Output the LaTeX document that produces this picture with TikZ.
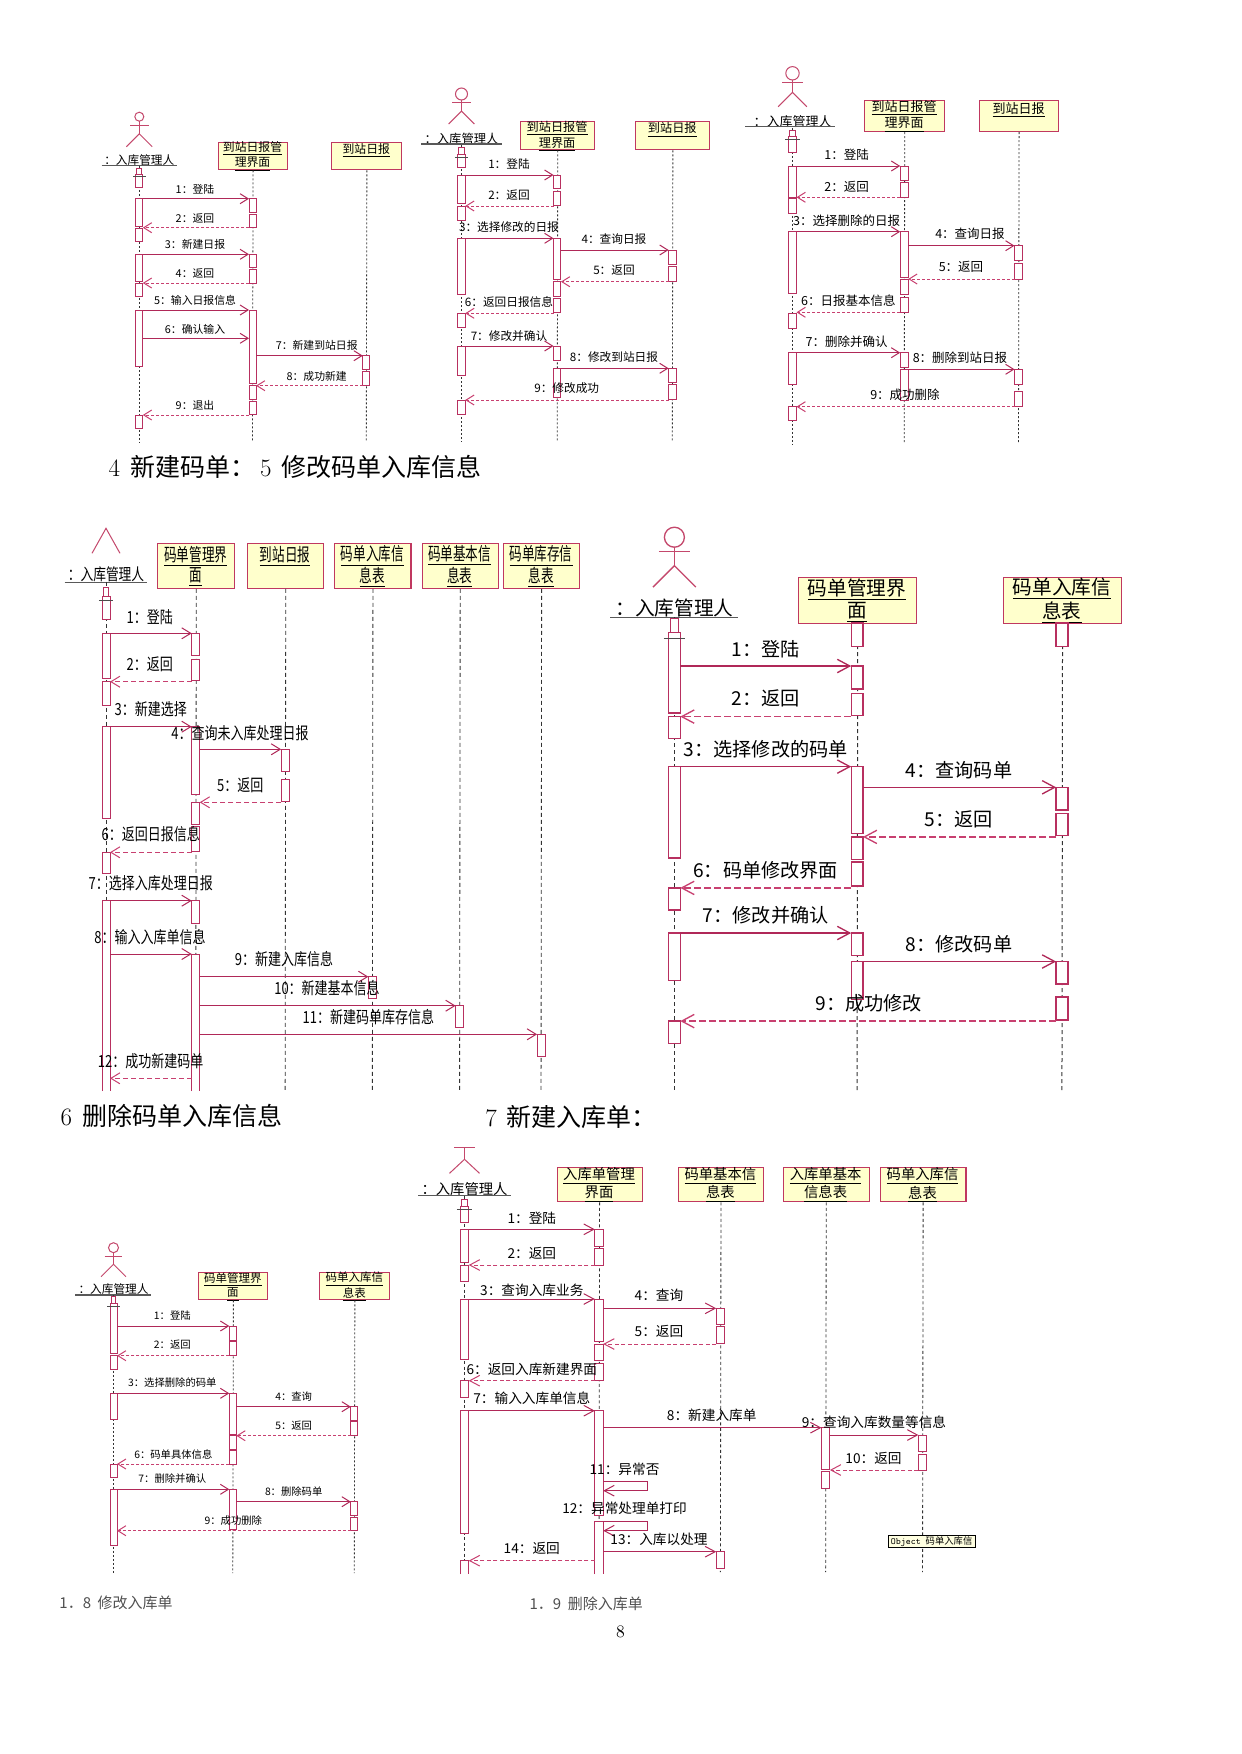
\documentclass[tikz,border=0pt]{standalone}
\usepackage{fontspec}
\usetikzlibrary{arrows.meta}
\newfontfamily\cjk{Noto Sans CJK SC}
\newfontfamily\cjkc[FakeStretch=0.78]{Noto Sans CJK SC}
\newfontfamily\cjkcb[FakeStretch=0.7]{Noto Sans CJK SC}
\definecolor{msgred}{RGB}{176,40,88}
\definecolor{retred}{RGB}{200,64,112}
\definecolor{actred}{RGB}{184,48,96}
\definecolor{boxred}{RGB}{192,56,96}
\definecolor{boxyel}{RGB}{255,255,204}
\definecolor{actorpink}{RGB}{196,72,108}
\definecolor{tipyel}{RGB}{255,255,225}
\definecolor{capgray}{RGB}{80,80,80}
\tikzset{
 objbox/.style={draw=boxred, fill=boxyel, line width=0.7pt, inner sep=0pt, anchor=north west},
 act/.style={draw=actred, fill=white, line width=0.6pt},
 actorst/.style={draw=actorpink, line width=0.6pt},
 ulst/.style={draw=black!65, line width=0.7pt},
 tick/.style={draw=black!70, line width=0.5pt},
 life/.style={draw=black!80, line width=0.5pt, dash pattern=on 1.2pt off 1.2pt},
 call/.style={draw=msgred, line width=0.6pt, -{Straight Barb[length=4.8pt,width=6pt]}},
 ret/.style={draw=retred, line width=0.6pt, dash pattern=on 1.8pt off 1.2pt, -{Straight Barb[length=4.8pt,width=6pt]}},
 lbl/.style={inner sep=0pt},
 boxtxt/.style={inner sep=0pt, align=center},
 actlbl/.style={inner sep=0pt},
}
\newcommand\sqact[3]{\draw[act] ({#1-\hw},{#2}) rectangle ({#1+\hw},{#3});}
\newcommand\sqacts[2]{\foreach \ya/\yb in {#2}{\sqact{#1}{\ya}{\yb}}}
\newcommand\sqacto[3]{\path[act] ({#1-\hw},{#3}) -- ({#1-\hw},{#2}) -- ({#1+\hw},{#2}) -- ({#1+\hw},{#3});}
\newcommand\sqstart[4]{%
 \draw[act] ({#1-0.7*\hw},{#2-#4}) rectangle ({#1+0.7*\hw},{#2});
 \draw[act] ({#1-\hw},{#2}) rectangle ({#1+\hw},{#3});
 \draw[tick] ({#1-1.8*\hw},{#2+0.45*#4}) -- ({#1+1.8*\hw},{#2+0.45*#4});}
\newcommand\sqmsg[8]{%
 \coordinate (#1s) at (#3,#5);
 \coordinate (#1e) at (#4,#5);
 \draw[#2] (#1s) -- (#1e);
 \node[lbl] (#1l) at (#6,#7) {#8};}
\newcommand\sqself[8]{%
 \coordinate (#1s) at (#2,#4); \coordinate (#1a) at (#3,#4);
 \coordinate (#1b) at (#3,#5); \coordinate (#1e) at (#2,#5);
 \draw[call] (#1s) -- (#1a) -- (#1b) -- (#1e);
 \node[lbl] (#1l) at (#6,#7) {#8};}
\newcommand\sqactor[4]{%
 \draw[actorst] (#1,#2) circle[radius=#4];
 \draw[actorst] (#1,{#2+#4}) -- (#1,{#2+0.57*#3});
 \draw[actorst] ({#1-0.31*#3},{#2+0.29*#3}) -- ({#1+0.31*#3},{#2+0.29*#3});
 \draw[actorst] ({#1-0.43*#3},{#2+#3}) -- (#1,{#2+0.57*#3}) -- ({#1+0.43*#3},{#2+#3});}
\newcommand\objbox[7]{%
 \node[objbox, minimum width={(#4-#2)*0.6pt}, minimum height={(#5-#3)*0.6pt}] (#1) at (#2,#3) {};
 \node[boxtxt] (#1t) at ({(#2+#4)/2},#6) {#7};}
\newcommand\ul[1]{\underline{#1}}
\begin{document}
\begin{tikzpicture}[x=0.6pt,y=-0.6pt]
\fill[white] (0,0) rectangle (1241,1754);
\useasboundingbox (0,0) rectangle (1241,1754);

% ================= A =================
\begin{scope}[lbl/.append style={font=\cjk\fontsize{6.5}{7}\selectfont},
 boxtxt/.append style={font=\cjk\fontsize{7.1}{7.6}\selectfont},
 actlbl/.append style={font=\cjk\fontsize{7}{8}\selectfont}]
\def\hw{3.5}
\sqactor{139.3}{116.7}{30}{4.5}
\node[actlbl] (Aal) at (139.3,160) {：入库管理人};
\coordinate (Aul1) at (101.7,165.3); \coordinate (Aul2) at (177.3,165.3);
\draw[ulst] (Aul1) -- (Aul2);
\objbox{Ab1}{217.7}{142.3}{287.3}{169.3}{156.3}{\ul{到站日报管}\\\ul{理界面}}
\objbox{Ab2}{331.3}{142.3}{401.3}{169.3}{150.7}{\ul{到站日报}}
\coordinate (Aae) at (139.3,442); \coordinate (Ab1e) at (252.5,442); \coordinate (Ab2e) at (366.3,442);
\draw[life] (Aal.south) -- (Aae);
\draw[life] (Ab1.south) -- (Ab1e);
\draw[life] (Ab2.south) -- (Ab2e);
\sqstart{139.3}{174}{187.3}{6}
\sqacts{139.3}{198.7/226, 228.3/241, 254.3/281.7, 283.3/296.7, 310/366, 415/428.3}
\sqacts{252.5}{198.7/212.3, 214.3/227.7, 254.3/267.7, 269.3/283.3, 310/383.3, 385.7/399, 401/414.3}
\sqacts{366.3}{355.7/369.3, 371.7/385.7}
\sqmsg{A1}{call}{142.8}{249}{198.7}{195}{189.3}{1：登陆}
\sqmsg{A2}{ret}{249}{142.8}{227.7}{195}{218.3}{2：返回}
\sqmsg{A3}{call}{142.8}{249}{254.3}{195}{244}{3：新建日报}
\sqmsg{A4}{ret}{249}{142.8}{283}{195}{273.3}{4：返回}
\sqmsg{A5}{call}{142.8}{249}{310}{195}{300}{5：输入日报信息}
\sqmsg{A6}{call}{142.8}{249}{338.3}{195}{329.3}{6：确认输入}
\sqmsg{A7}{call}{256}{362.8}{355.7}{316.7}{345}{7：新建到站日报}
\sqmsg{A8}{ret}{362.8}{256}{385.7}{316.7}{376}{8：成功新建}
\sqmsg{A9}{ret}{249}{142.8}{415}{195}{405}{9：退出}
\end{scope}

% ================= B =================
\begin{scope}[lbl/.append style={font=\cjk\fontsize{7}{7.5}\selectfont},
 boxtxt/.append style={font=\cjk\fontsize{7.3}{7.4}\selectfont},
 actlbl/.append style={font=\cjk\fontsize{7.4}{8}\selectfont}]
\def\hw{3.7}
\sqactor{461.5}{94}{30}{6}
\node[actlbl] (Bal) at (461.5,139) {：入库管理人};
\coordinate (Bul1) at (421,144); \coordinate (Bul2) at (502.3,144);
\draw[ulst] (Bul1) -- (Bul2);
\objbox{Bb1}{520}{120.7}{594.3}{149.3}{136.2}{\ul{到站日报管}\\\ul{理界面}}
\objbox{Bb2}{635.3}{120.7}{709.3}{149.3}{130}{\ul{到站日报}}
\coordinate (Bae) at (461.5,442); \coordinate (Bb1e) at (557.2,442); \coordinate (Bb2e) at (672.3,442);
\draw[life] (Bal.south) -- (Bae);
\draw[life] (Bb1.south) -- (Bb1e);
\draw[life] (Bb2.south) -- (Bb2e);
\sqstart{461.5}{154}{167.3}{7}
\sqacts{461.5}{175/203.3, 206/220, 238.3/294, 313.3/327.3, 346/375, 400/414}
\sqacts{557.2}{175/188.3, 191.7/205, 238.3/279.3, 281.7/296.7, 298.3/312.3, 346/360, 368.3/397.7}
\sqacts{672.3}{250/264, 266.7/281, 368.3/382.3, 384.3/399.3}
\sqmsg{B1}{call}{465.2}{553.5}{175}{509}{164}{1：登陆}
\sqmsg{B2}{ret}{553.5}{465.2}{206}{509}{195}{2：返回}
\sqmsg{B3}{call}{465.2}{553.5}{238.3}{509}{226.7}{3：选择修改的日报}
\sqmsg{B4}{call}{560.9}{668.6}{250}{614}{239.3}{4：查询日报}
\sqmsg{B5}{ret}{668.6}{560.9}{281.7}{614}{270}{5：返回}
\sqmsg{B6}{ret}{553.5}{465.2}{313.3}{509}{301.7}{6：返回日报信息}
\sqmsg{B7}{call}{465.2}{553.5}{346}{509}{336}{7：修改并确认}
\sqmsg{B8}{call}{560.9}{668.6}{368.3}{614}{356.7}{8：修改到站日报}
\sqmsg{B9}{ret}{668.6}{465.2}{400}{566.7}{388.3}{9：修改成功}
\end{scope}

% ================= C =================
\begin{scope}[lbl/.append style={font=\cjk\fontsize{7.5}{8}\selectfont},
 boxtxt/.append style={font=\cjk\fontsize{7.8}{7.6}\selectfont},
 actlbl/.append style={font=\cjk\fontsize{7.8}{8}\selectfont}]
\def\hw{4}
\sqactor{792.5}{73.3}{33.4}{6.7}
\node[actlbl] (Cal) at (792.5,121.5) {：入库管理人};
\coordinate (Cul1) at (745,126.7); \coordinate (Cul2) at (835,126.7);
\draw[ulst] (Cul1) -- (Cul2);
\objbox{Cb1}{864.3}{100}{944}{131}{116.3}{\ul{到站日报管}\\\ul{理界面}}
\objbox{Cb2}{978.7}{100}{1058.3}{131}{110}{\ul{到站日报}}
\coordinate (Cae) at (792.5,444); \coordinate (Cb1e) at (904.2,444); \coordinate (Cb2e) at (1018.5,444);
\draw[life] (Cal.south) -- (Cae);
\draw[life] (Cb1.south) -- (Cb1e);
\draw[life] (Cb2.south) -- (Cb2e);
\sqstart{792.5}{136.7}{152.3}{6.7}
\sqacts{792.5}{166/197.3, 198.3/213.3, 231.7/293.3, 313.3/328.3, 352.7/384, 406.7/420}
\sqacts{904.2}{166/180.7, 182.7/197.3, 231.7/277.3, 279.3/294.3, 297.3/312.3, 352.7/367.3, 369.3/400}
\sqacts{1018.5}{245.7/260.7, 263.3/279, 369.3/384, 391/406.7}
\sqmsg{C1}{call}{796.5}{900.2}{166}{846.7}{155}{1：登陆}
\sqmsg{C2}{ret}{900.2}{796.5}{197.3}{846.7}{186.7}{2：返回}
\sqmsg{C3}{call}{796.5}{900.2}{231.7}{846.7}{220.7}{3：选择删除的日报}
\sqmsg{C4}{call}{908.2}{1014.5}{245.7}{970}{234}{4：查询日报}
\sqmsg{C5}{ret}{1014.5}{908.2}{279}{961}{267.3}{5：返回}
\sqmsg{C6}{ret}{900.2}{796.5}{312.3}{848.3}{300.7}{6：日报基本信息}
\sqmsg{C7}{call}{796.5}{900.2}{352.7}{846.7}{341.7}{7：删除并确认}
\sqmsg{C8}{call}{908.2}{1014.5}{369.3}{960}{357.3}{8：删除到站日报}
\sqmsg{C9}{ret}{1014.5}{796.5}{406.7}{905}{395}{9：成功删除}
\end{scope}

\node[anchor=west, inner sep=0pt, font=\cjk\fontsize{15}{16}\selectfont] (cap1) at (108.3,467.3)
 {{\rmfamily 4}\hspace{6pt}新建码单：\hspace{3pt}{\rmfamily 5}\hspace{6pt}修改码单入库信息};

% ================= D =================
\begin{scope}[lbl/.append style={font=\cjkc\fontsize{10}{11}\selectfont},
 boxtxt/.append style={font=\cjkcb\fontsize{10.8}{12}\selectfont},
 actlbl/.append style={font=\cjkc\fontsize{9.8}{11}\selectfont},
 life/.style={draw=black!80, line width=0.5pt, dash pattern=on 2.4pt off 1.8pt},
 call/.style={draw=msgred, line width=0.6pt, -{Straight Barb[length=5.4pt,width=6.6pt]}},
 ret/.style={draw=retred, line width=0.6pt, dash pattern=on 3pt off 1.8pt, -{Straight Barb[length=5.4pt,width=6.6pt]}}]
\def\hw{4}
\draw[actorst] (92,553.3) -- (106,528.3) -- (120,553.3);
\node[actlbl] (Dal) at (106,574) {：入库管理人};
\coordinate (Dul1) at (64.6,582.7); \coordinate (Dul2) at (147.3,582.7);
\draw[ulst] (Dul1) -- (Dul2);
\objbox{Db1}{157.3}{542.7}{234.1}{587.7}{566.7}{\ul{码单管理界}\\\ul{面}}
\objbox{Db2}{247.1}{542.7}{323.2}{587.7}{556.7}{\ul{到站日报}}
\objbox{Db3}{334.3}{542.7}{410.4}{587.7}{566.7}{\ul{码单入库信}\\\ul{息表}}
\objbox{Db4}{421.7}{542.7}{497.5}{587.7}{566.7}{\ul{码单基本信}\\\ul{息表}}
\objbox{Db5}{503}{542.7}{579.1}{587.7}{566.7}{\ul{码单库存信}\\\ul{息表}}
\coordinate (Dae) at (106,1091); \coordinate (Db1e) at (195.7,1091);
\coordinate (Db2e) at (285.15,1091); \coordinate (Db3e) at (372.35,1091);
\coordinate (Db4e) at (459.6,1091); \coordinate (Db5e) at (541.05,1091);
\draw[life] (Dal.south) -- (Dae);
\draw[life] (Db1.south) -- (Db1e);
\draw[life] (Db2.south) -- (Db2e);
\draw[life] (Db3.south) -- (Db3e);
\draw[life] (Db4.south) -- (Db4e);
\draw[life] (Db5.south) -- (Db5e);
\sqstart{106}{596.7}{619.3}{9}
\sqacts{106}{633.3/678.3, 681.7/705, 726.7/818.3, 852.3/873.3}
\sqacto{106}{900.7}{1091}
\sqacts{195.7}{633.3/655, 659/680.7, 726.7/794.3, 802.3/824.3, 826.7/851, 900.7/923.3}
\sqacto{195.7}{954}{1091}
\sqacts{285.15}{749.3/771.7, 779.3/801.7}
\sqacts{372.35}{976.7/998.3}
\sqacts{459.6}{1005.7/1027.3}
\sqacts{541.05}{1034.3/1056.7}
\sqmsg{D1}{call}{110}{191.7}{633.3}{149.7}{616.7}{1：登陆}
\sqmsg{D2}{ret}{191.7}{110}{681.7}{149.7}{664.3}{2：返回}
\sqmsg{D3}{call}{110}{191.7}{726.7}{150.7}{709}{3：新建选择}
\sqmsg{D4}{call}{199.7}{281.15}{749.3}{240}{733.3}{4：查询未入库处理日报}
\sqmsg{D5}{ret}{281.15}{199.7}{802.3}{240.3}{785.7}{5：返回}
\sqmsg{D6}{ret}{191.7}{110}{852.3}{150.7}{834.3}{6：返回日报信息}
\sqmsg{D7}{call}{110}{191.7}{900.7}{150.7}{883.3}{7：选择入库处理日报}
\sqmsg{D8}{call}{110}{191.7}{954}{150}{936.7}{8：输入入库单信息}
\sqmsg{D9}{call}{199.7}{368.35}{976.7}{284}{959.3}{9：新建入库信息}
\sqmsg{D10}{call}{199.7}{455.6}{1005.7}{327}{988.3}{10：新建基本信息}
\sqmsg{D11}{call}{199.7}{537.05}{1034.3}{368.4}{1017.3}{11：新建码单库存信息}
\sqmsg{D12}{ret}{191.7}{110}{1078.3}{150.7}{1061}{12：成功新建码单}
\end{scope}

% ================= E =================
\begin{scope}[lbl/.append style={font=\cjk\fontsize{11.5}{12}\selectfont},
 boxtxt/.append style={font=\cjk\fontsize{11.8}{11.8}\selectfont},
 actlbl/.append style={font=\cjk\fontsize{11.8}{12}\selectfont},
 life/.style={draw=black!80, line width=0.6pt, dash pattern=on 2.4pt off 1.8pt},
 call/.style={draw=msgred, line width=0.8pt, -{Straight Barb[length=7.5pt,width=8pt]}},
 ret/.style={draw=retred, line width=0.8pt, dash pattern=on 4.2pt off 1.8pt, -{Straight Barb[length=7.5pt,width=8pt]}},
 act/.style={draw=actred, fill=white, line width=0.8pt},
 actorst/.style={draw=actorpink, line width=0.8pt}]
\def\hw{5.9}
\sqactor{674.4}{537.2}{49.9}{10}
\node[actlbl] (Eal) at (674.4,608) {：入库管理人};
\coordinate (Eul1) at (610.1,617.5); \coordinate (Eul2) at (737.9,617.5);
\draw[ulst] (Eul1) -- (Eul2);
\objbox{Eb1}{798.1}{576.8}{916.1}{623}{600.6}{\ul{码单管理界}\\\ul{面}}
\objbox{Eb2}{1003.3}{576.8}{1120.6}{623}{600.6}{\ul{码单入库信}\\\ul{息表}}
\coordinate (Eae) at (674.4,1091); \coordinate (Eb1e) at (857.1,1091); \coordinate (Eb2e) at (1061.95,1091);
\draw[life] (Eal.south) -- (Eae);
\draw[life] (Eb1.south) -- (Eb1e);
\draw[life] (Eb2.south) -- (Eb2e);
\sqstart{674.4}{632.6}{712.9}{14}
\sqacts{674.4}{716.6/738.8, 766.6/858, 887.9/910.1, 933/980.4, 1021.1/1043.3}
\sqacts{857.1}{623/646.3, 666/688.9, 693.3/715.5, 766.6/833.2, 836.9/859.8, 862/886.1, 933/955.2, 961.5/999.6}
\sqacts{1061.95}{623/646.3, 787.3/809.9, 813.2/835.8, 961.5/984.1, 997/1020}
\sqmsg{E1}{call}{680.3}{851.2}{666}{765.7}{648.9}{1：登陆}
\sqmsg{E2}{ret}{851.2}{680.3}{716.6}{765.7}{698.1}{2：返回}
\sqmsg{E3}{call}{680.3}{851.2}{766.6}{765.7}{748.8}{3：选择修改的码单}
\sqmsg{E4}{call}{863}{1056.1}{787.3}{959}{770.3}{4：查询码单}
\sqmsg{E5}{ret}{1056.1}{863}{836.9}{959}{819.1}{5：返回}
\sqmsg{E6}{ret}{851.2}{680.3}{887.9}{765.7}{870.2}{6：码单修改界面}
\sqmsg{E7}{call}{680.3}{851.2}{933}{765.7}{915.3}{7：修改并确认}
\sqmsg{E8}{call}{863}{1056.1}{961.5}{959}{944.2}{8：修改码单}
\sqmsg{E9}{ret}{1056.1}{680.3}{1021.1}{868.8}{1003.3}{9：成功修改}
\end{scope}

\node[anchor=west, inner sep=0pt, font=\cjk\fontsize{15}{16}\selectfont] (cap2) at (60.2,1116)
 {{\rmfamily 6}\hspace{6pt}删除码单入库信息};
\node[anchor=west, inner sep=0pt, font=\cjk\fontsize{15}{16}\selectfont] (cap3) at (485,1117.3)
 {{\rmfamily 7}\hspace{6pt}新建入库单：};

% ================= F =================
\begin{scope}[lbl/.append style={font=\cjk\fontsize{6.2}{7}\selectfont},
 boxtxt/.append style={font=\cjk\fontsize{6.9}{7}\selectfont},
 actlbl/.append style={font=\cjk\fontsize{7}{8}\selectfont}]
\def\hw{3.5}
\sqactor{113.5}{1247.7}{29}{5}
\node[actlbl] (Fal) at (113.5,1289) {：入库管理人};
\coordinate (Ful1) at (75,1295); \coordinate (Ful2) at (151,1295);
\draw[ulst] (Ful1) -- (Ful2);
\objbox{Fb1}{198.3}{1272.3}{267.3}{1299.3}{1286.8}{\ul{码单管理界}\\\ul{面}}
\objbox{Fb2}{319.3}{1272.3}{389.3}{1299.3}{1286.8}{\ul{码单入库信}\\\ul{息表}}
\coordinate (Fae) at (113.5,1573); \coordinate (Fb1e) at (232.8,1573); \coordinate (Fb2e) at (354.3,1573);
\draw[life] (Fal.south) -- (Fae);
\draw[life] (Fb1.south) -- (Fb1e);
\draw[life] (Fb2.south) -- (Fb2e);
\sqstart{113.5}{1303.3}{1353.3}{7}
\sqacts{113.5}{1355.7/1369, 1393.3/1419.3, 1464.3/1477.3, 1489.3/1545}
\sqacts{232.8}{1326/1340, 1341.7/1355.7, 1393.3/1434.3, 1435.7/1449, 1450.7/1464, 1489.3/1529}
\sqacts{354.3}{1406.7/1420, 1421.7/1435.7, 1501.7/1515, 1517.3/1530.7}
\sqmsg{F1}{call}{117}{229.3}{1326}{172.3}{1315.7}{1：登陆}
\sqmsg{F2}{ret}{229.3}{117}{1355.7}{172.3}{1345}{2：返回}
\sqmsg{F3}{call}{117}{229.3}{1393.3}{172.3}{1382.3}{3：选择删除的码单}
\sqmsg{F4}{call}{236.3}{350.8}{1406.7}{293.7}{1396.7}{4：查询}
\sqmsg{F5}{ret}{350.8}{236.3}{1435.7}{293.7}{1425.7}{5：返回}
\sqmsg{F6}{ret}{229.3}{117}{1464}{173.3}{1454.3}{6：码单具体信息}
\sqmsg{F7}{call}{117}{229.3}{1489.3}{172.3}{1479}{7：删除并确认}
\sqmsg{F8}{call}{236.3}{350.8}{1501.7}{293.7}{1491.7}{8：删除码单}
\sqmsg{F9}{ret}{350.8}{117}{1530.7}{233.3}{1521}{9：成功删除}
\end{scope}

% ================= G =================
\begin{scope}[lbl/.append style={font=\cjk\fontsize{8.2}{9}\selectfont},
 boxtxt/.append style={font=\cjk\fontsize{8.6}{8}\selectfont},
 actlbl/.append style={font=\cjk\fontsize{8.6}{9}\selectfont},
 life/.style={draw=black!80, line width=0.5pt, dash pattern=on 1.8pt off 1.5pt},
 call/.style={draw=msgred, line width=0.6pt, -{Straight Barb[length=6pt,width=6.4pt]}},
 ret/.style={draw=retred, line width=0.6pt, dash pattern=on 2.4pt off 1.5pt, -{Straight Barb[length=6pt,width=6.4pt]}}]
\def\hw{4.2}
\draw[actorst] (454.3,1147.3) -- (475.4,1147.3);
\draw[actorst] (464.5,1147.3) -- (464.5,1159.3);
\draw[actorst] (449.5,1173.3) -- (464.5,1159.3) -- (479.5,1173.3);
\node[actlbl] (Gal) at (464.5,1189) {：入库管理人};
\coordinate (Gul1) at (418,1195.7); \coordinate (Gul2) at (510.7,1195.7);
\draw[ulst] (Gul1) -- (Gul2);
\objbox{Gb1}{556.5}{1167.3}{641.5}{1201.3}{1185}{\ul{入库单管理}\\\ul{界面}}
\objbox{Gb2}{677.5}{1167.3}{763.3}{1201.3}{1185}{\ul{码单基本信}\\\ul{息表}}
\objbox{Gb3}{782.6}{1167.3}{868.7}{1201.3}{1185}{\ul{入库单基本}\\\ul{信息表}}
\objbox{Gb4}{879.7}{1167.3}{965.4}{1201.3}{1185}{\ul{码单入库信}\\\ul{息表}}
\coordinate (Gae) at (464.5,1572); \coordinate (Gb1e) at (599,1572);
\coordinate (Gb2e) at (720.4,1572); \coordinate (Gb3e) at (825.65,1572); \coordinate (Gb4e) at (922.55,1572);
\draw[life] (Gal.south) -- (Gae);
\draw[life] (Gb1.south) -- (Gb1e);
\draw[life] (Gb2.south) -- (Gb2e);
\draw[life] (Gb3.south) -- (Gb3e);
\draw[life] (Gb4.south) -- (Gb4e);
\sqstart{464.5}{1206}{1222.3}{7}
\sqacts{464.5}{1229.3/1262.7, 1265/1281.7, 1299/1359.3, 1380.7/1397.3, 1410.7/1533.3}
\sqacto{464.5}{1560.7}{1574}
\sqacts{599}{1229.3/1246, 1248.3/1265, 1299/1341.7, 1344/1360.7, 1363.3/1380, 1410.7/1515.7}
\sqacto{599}{1521.7}{1574}
\sqacts{720.4}{1308.3/1324.3, 1326.7/1343.3, 1551.7/1568.3}
\sqacts{825.65}{1427.7/1469.3, 1471.7/1488.3}
\sqacts{922.55}{1435/1451, 1454/1470}
\sqmsg{G1}{call}{468.7}{594.8}{1229.3}{531.8}{1218.3}{1：登陆}
\sqmsg{G2}{ret}{594.8}{468.7}{1265}{531.8}{1253.3}{2：返回}
\sqmsg{G3}{call}{468.7}{594.8}{1299}{531.8}{1290}{3：查询入库业务}
\sqmsg{G4}{call}{603.2}{716.2}{1308.3}{659}{1295.7}{4：查询}
\sqmsg{G5}{ret}{716.2}{603.2}{1344}{659}{1331.7}{5：返回}
\sqmsg{G6}{ret}{594.8}{468.7}{1380.7}{531.8}{1369.3}{6：返回入库新建界面}
\sqmsg{G7}{call}{468.7}{594.8}{1410.7}{531.8}{1398.3}{7：输入入库单信息}
\sqmsg{G8}{call}{603.2}{821.45}{1427.7}{711.7}{1415}{8：新建入库单}
\sqmsg{G9}{call}{829.85}{918.35}{1435}{874}{1422.7}{9：查询入库数量等信息}
\sqmsg{G10}{ret}{918.35}{829.85}{1470}{873.5}{1458.3}{10：返回}
\sqself{G11}{603.2}{647.4}{1481.7}{1490.7}{624.5}{1469.3}{11：异常否}
\sqself{G12}{603.2}{647.4}{1521.7}{1530.7}{624.5}{1508.3}{12：异常处理单打印}
\sqmsg{G13}{call}{603.2}{716.2}{1551.7}{659}{1539}{13：入库以处理}
\sqmsg{G14}{ret}{594.8}{468.7}{1560.7}{531.8}{1548.3}{14：返回}
\node[draw=black, fill=tipyel, line width=0.4pt, inner sep=0.5pt, anchor=north west,
 minimum width=52pt, minimum height=7pt, font=\fontsize{5.6}{6}\selectfont] (Gtip) at (888,1535)
 {\ttfamily Object \cjk 码单入库信};
\end{scope}

\node[anchor=west, inner sep=0pt, text=capgray, font=\cjk\fontsize{9}{10}\selectfont] (cap4) at (59.1,1603.3)
 {1．8\hspace{4pt}修改入库单};
\node[anchor=west, inner sep=0pt, text=capgray, font=\cjk\fontsize{9}{10}\selectfont] (cap5) at (529.3,1603.3)
 {1．9\hspace{4pt}删除入库单};
\node[inner sep=0pt, font=\rmfamily\fontsize{10.5}{12}\selectfont] (pgno) at (620.5,1631.7) {8};
\end{tikzpicture}
\end{document}
